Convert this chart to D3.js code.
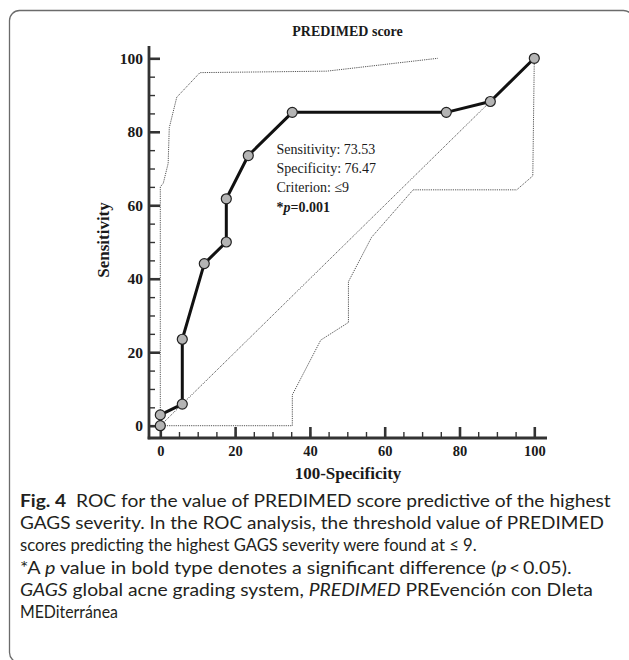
<!DOCTYPE html>
<html>
<head>
<meta charset="utf-8">
<script src="https://d3js.org/d3.v7.min.js"></script>
<style>
body { margin: 0; background: #fff; }
</style>
</head>
<body>
<svg id="chart" width="629" height="660"></svg>
<script>
// ROC points (100-Specificity, Sensitivity)
var rocX = [0, 0, 5.88, 5.88, 11.76, 17.65, 17.65, 23.53, 35.29, 76.47, 88.24, 100];
var rocY = [0, 2.94, 5.88, 23.53, 44.12, 50, 61.76, 73.53, 85.29, 85.29, 88.24, 100];

// confidence bounds
var upperX = [0, 0, 0.8, 2.1, 2.4, 4.4, 10.6, 44.5, 74.2];
var upperY = [0, 65, 66, 71.4, 81.1, 89.4, 96.1, 96.5, 100];
var lowerX = [0, 35.3, 35.3, 42.9, 50.3, 50.3, 56.5, 67.6, 95.3, 99.6, 100];
var lowerY = [0, 0, 8.4, 23.3, 28.1, 39.2, 51.3, 64.2, 64.2, 68, 100];

var diagX = [0, 100];
var diagY = [0, 100];

var majorTicks = [0, 20, 40, 60, 80, 100];
var minorTicks = d3.range(0, 101, 5);

var chartTitle = "PREDIMED score";
var xLabel = "100-Specificity";
var yLabel = "Sensitivity";
var statLines = ["Sensitivity: 73.53", "Specificity: 76.47", "Criterion: \u22649"];

var svg = d3.select("#chart");

// figure frame
svg.append("rect")
    .attr("x", 9.5).attr("y", 10.5)
    .attr("width", 624).attr("height", 652)
    .attr("rx", 10)
    .style("fill", "none")
    .style("stroke", "#6b6b6b")
    .style("stroke-width", 1.3);

var x = d3.scaleLinear().domain([0, 100]).range([160.3, 534.3]);
var y = d3.scaleLinear().domain([0, 100]).range([425.7, 58.3]);

var axisX = 149, axisY = 438;

function zip(xs, ys) {
    var out = [];
    for (var i = 0; i < xs.length; i++) out.push([xs[i], ys[i]]);
    return out;
}

var line = d3.line()
    .x(function (d) { return x(d[0]); })
    .y(function (d) { return y(d[1]); });

// minor ticks
svg.append("g")
    .attr("transform", "translate(" + axisX + ",0)")
    .call(d3.axisLeft(y).tickValues(minorTicks).tickSizeInner(-6).tickSizeOuter(0).tickFormat(""))
    .call(function (g) { g.select(".domain").remove(); })
    .selectAll("line").style("stroke", "#333").style("stroke-width", 1.4);
svg.append("g")
    .attr("transform", "translate(0," + axisY + ")")
    .call(d3.axisBottom(x).tickValues(minorTicks).tickSizeInner(-6).tickSizeOuter(0).tickFormat(""))
    .call(function (g) { g.select(".domain").remove(); })
    .selectAll("line").style("stroke", "#333").style("stroke-width", 1.4);

// major ticks + labels
var yAxis = svg.append("g")
    .attr("transform", "translate(" + axisX + ",0)")
    .call(d3.axisLeft(y).tickValues(majorTicks).tickSizeInner(-11).tickSizeOuter(0).tickPadding(6))
    .call(function (g) { g.select(".domain").remove(); });
yAxis.selectAll("line").style("stroke", "#333").style("stroke-width", 2.6);
yAxis.selectAll("text")
    .style("font-family", "'Liberation Serif', serif")
    .style("font-weight", "bold")
    .style("font-size", "15.5px")
    .style("fill", "#1a1a1a");

var xAxis = svg.append("g")
    .attr("transform", "translate(0," + axisY + ")")
    .call(d3.axisBottom(x).tickValues(majorTicks).tickSizeInner(-11).tickSizeOuter(0).tickPadding(8))
    .call(function (g) { g.select(".domain").remove(); });
xAxis.selectAll("line").style("stroke", "#333").style("stroke-width", 2.6);
xAxis.selectAll("text")
    .style("font-family", "'Liberation Serif', serif")
    .style("font-weight", "bold")
    .style("font-size", "14.5px")
    .style("fill", "#1a1a1a");

// axis lines
svg.append("line")
    .attr("x1", axisX).attr("y1", 46)
    .attr("x2", axisX).attr("y2", axisY + 1.3)
    .style("stroke", "#333").style("stroke-width", 2.8);
svg.append("line")
    .attr("x1", axisX - 1.3).attr("y1", axisY)
    .attr("x2", 547).attr("y2", axisY)
    .style("stroke", "#333").style("stroke-width", 2.8);

// dotted reference and bounds
[zip(diagX, diagY), zip(upperX, upperY), zip(lowerX, lowerY)].forEach(function (pts) {
    svg.append("path")
        .attr("d", line(pts))
        .style("fill", "none")
        .style("stroke", "#555")
        .style("stroke-width", 1)
        .style("stroke-dasharray", "1.2,1");
});

// ROC curve
var rocPts = zip(rocX, rocY);
svg.append("path")
    .attr("d", line(rocPts))
    .style("fill", "none")
    .style("stroke", "#111")
    .style("stroke-width", 3)
    .style("stroke-linejoin", "round");

svg.append("g").selectAll("circle")
    .data(rocPts)
    .enter()
    .append("circle")
    .attr("cx", function (d) { return x(d[0]); })
    .attr("cy", function (d) { return y(d[1]); })
    .attr("r", 5)
    .style("fill", "#b4b4b4")
    .style("stroke", "#222")
    .style("stroke-width", 1.2);

// title and axis labels
svg.append("text")
    .attr("x", 347.5).attr("y", 36)
    .attr("text-anchor", "middle")
    .style("font-family", "'Liberation Serif', serif")
    .style("font-weight", "bold")
    .style("font-size", "14px")
    .style("fill", "#1a1a1a")
    .text(chartTitle);

svg.append("text")
    .attr("x", 348).attr("y", 478.5)
    .attr("text-anchor", "middle")
    .style("font-family", "'Liberation Serif', serif")
    .style("font-weight", "bold")
    .style("font-size", "17px")
    .style("fill", "#1a1a1a")
    .text(xLabel);

svg.append("text")
    .attr("transform", "translate(108.5,240) rotate(-90)")
    .attr("text-anchor", "middle")
    .style("font-family", "'Liberation Serif', serif")
    .style("font-weight", "bold")
    .style("font-size", "17px")
    .style("fill", "#1a1a1a")
    .text(yLabel);

// stats box
var stats = svg.append("g")
    .style("font-family", "'Liberation Serif', serif")
    .style("font-size", "14px")
    .style("fill", "#1a1a1a");
stats.selectAll("text.stat")
    .data(statLines)
    .enter()
    .append("text")
    .attr("class", "stat")
    .attr("x", 276.5)
    .attr("y", function (d, i) { return 154 + i * 19.2; })
    .text(function (d) { return d; });
var pText = stats.append("text")
    .attr("x", 276.5).attr("y", 154 + 3 * 19.2)
    .style("font-weight", "bold");
pText.append("tspan").text("*");
pText.append("tspan").style("font-style", "italic").text("p");
pText.append("tspan").text("=0.001");

// caption, each line squeezed to the width it has in the figure
var caption = svg.append("g")
    .style("font-family", "Lato, 'Open Sans', sans-serif")
    .style("font-size", "16.6px")
    .style("fill", "#231f20");

var capLines = [
    [["Fig. 4", "b"], ["\u00a0 ROC for the value of PREDIMED score predictive of the highest", ""]],
    [["GAGS severity. In the ROC analysis, the threshold value of PREDIMED", ""]],
    [["scores predicting the highest GAGS severity were found at \u2264 9.", ""]],
    [["*A ", ""], ["p", "i"], [" value in bold type denotes a significant difference (", ""], ["p", "i"], ["\u2009<\u20090.05).", ""]],
    [["GAGS", "i"], [" global acne grading system, ", ""], ["PREDIMED", "i"], [" PREvención con DIeta", ""]],
    [["MEDiterránea", ""]]
];
var capWidths = [591, 584, 457, 552, 573, 98];

capLines.forEach(function (parts, i) {
    var t = caption.append("text").attr("x", 0).attr("y", 0);
    parts.forEach(function (p) {
        var s = t.append("tspan").text(p[0]);
        if (p[1] == "b") s.style("font-weight", "bold");
        if (p[1] == "i") s.style("font-style", "italic");
    });
    var k = capWidths[i] / t.node().getComputedTextLength();
    t.attr("transform", "translate(20," + (507 + i * 22.2) + ") scale(" + k + ",1)");
});
</script>
</body>
</html>
